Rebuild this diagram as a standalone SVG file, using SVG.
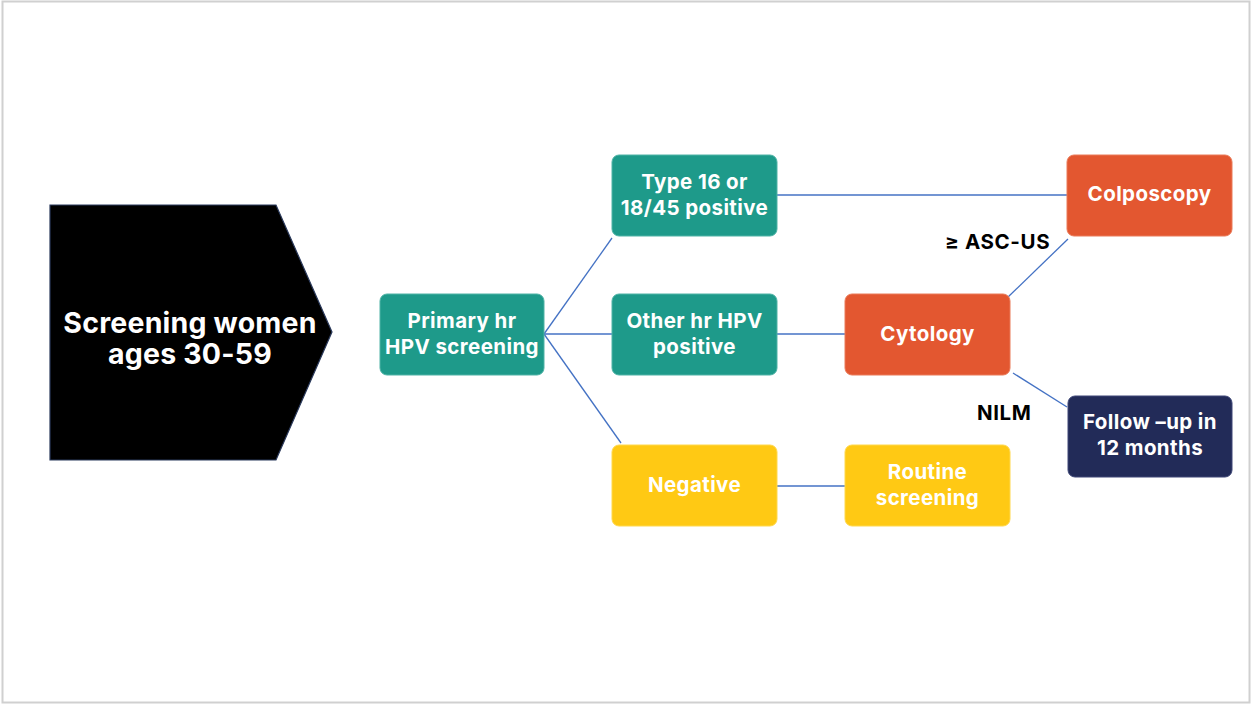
<svg xmlns="http://www.w3.org/2000/svg" width="1252" height="705" viewBox="0 0 1252 705">
  <style>
    .node text { font-family: Inter, "Open Sans", "Liberation Sans", Arial, sans-serif; font-weight: bold; font-size: 20.5px; fill: #ffffff; text-anchor: middle; letter-spacing: 0.4px; }
    .node text.title { font-size: 28.5px; letter-spacing: 0.2px; }
    .teal { fill: #1E9A8A; stroke: #4FB3A6; stroke-width: 1; }
    .orange { fill: #E35730; stroke: #EA7A58; stroke-width: 1; }
    .yellow { fill: #FFC914; stroke: #FFD84D; stroke-width: 1; }
    .navy { fill: #222B58; stroke: #3E4777; stroke-width: 1; }
    .conn line { stroke: #4472C4; stroke-width: 1.3; }
    .label { font-family: Inter, "Open Sans", "Liberation Sans", Arial, sans-serif; font-weight: bold; font-size: 20.5px; fill: #000000; letter-spacing: 0.6px; }
  </style>
  <rect x="0" y="0" width="1252" height="705" fill="#ffffff"/>
  <rect x="2.5" y="1.5" width="1247" height="701" fill="none" stroke="#D0D0D0" stroke-width="2"/>

  <g id="connectors" class="conn">
    <line x1="544" y1="334" x2="612" y2="238"/>
    <line x1="544" y1="334" x2="612" y2="334"/>
    <line x1="544" y1="334" x2="621" y2="443"/>
    <line x1="777" y1="195" x2="1067" y2="195"/>
    <line x1="777" y1="334" x2="845" y2="334"/>
    <line x1="777" y1="486" x2="845" y2="486"/>
    <line x1="1007" y1="298" x2="1068" y2="239"/>
    <line x1="1013" y1="373" x2="1067" y2="407"/>
  </g>

  <g id="start" class="node">
    <polygon points="50,205 276,205 332,332 276,460 50,460" fill="#000000" stroke="#2B3A5C" stroke-width="1.2"/>
    <text class="title" x="190" y="333">Screening women</text>
    <text class="title" x="190" y="364">ages 30-59</text>
  </g>

  <g id="primary" class="node">
    <rect class="teal" x="380" y="294" width="164" height="81" rx="7"/>
    <text x="462" y="328">Primary hr</text>
    <text x="462" y="354">HPV screening</text>
  </g>

  <g id="type16" class="node">
    <rect class="teal" x="612" y="155" width="165" height="81" rx="7"/>
    <text x="694.5" y="189">Type 16 or</text>
    <text x="694.5" y="215">18/45 positive</text>
  </g>

  <g id="otherhr" class="node">
    <rect class="teal" x="612" y="294" width="165" height="81" rx="7"/>
    <text x="694.5" y="328">Other hr HPV</text>
    <text x="694.5" y="354">positive</text>
  </g>

  <g id="negative" class="node">
    <rect class="yellow" x="612" y="445" width="165" height="81" rx="7"/>
    <text x="694.5" y="492">Negative</text>
  </g>

  <g id="routine" class="node">
    <rect class="yellow" x="845" y="445" width="165" height="81" rx="7"/>
    <text x="927.5" y="479">Routine</text>
    <text x="927.5" y="505">screening</text>
  </g>

  <g id="cytology" class="node">
    <rect class="orange" x="845" y="294" width="165" height="81" rx="7"/>
    <text x="927.5" y="341">Cytology</text>
  </g>

  <g id="colposcopy" class="node">
    <rect class="orange" x="1067" y="155" width="165" height="81" rx="7"/>
    <text x="1149.5" y="201">Colposcopy</text>
  </g>

  <g id="followup" class="node">
    <rect class="navy" x="1068" y="396" width="164" height="81" rx="7"/>
    <text x="1150" y="429">Follow –up in</text>
    <text x="1150" y="455">12 months</text>
  </g>

  <g id="labels">
    <text class="label" x="945" y="249">≥ ASC-US</text>
    <text class="label" x="977" y="420">NILM</text>
  </g>
</svg>
